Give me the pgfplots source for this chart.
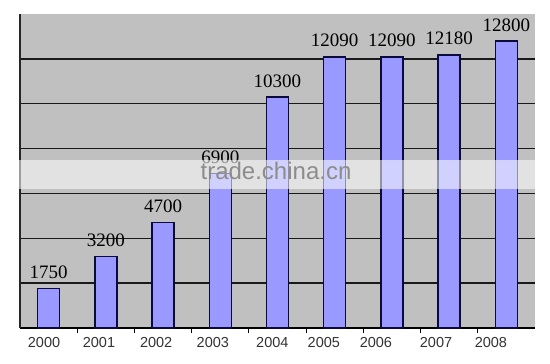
\documentclass[border=0pt]{standalone}
\usepackage{fontspec}
\setmainfont{Liberation Serif}
\newfontfamily\arialfont{Liberation Sans}
\usepackage{pgfplots}
\pgfplotsset{compat=1.18}
\definecolor{bggray}{RGB}{192,192,192}
\definecolor{barblue}{RGB}{153,153,255}
\definecolor{bardark}{RGB}{10,10,60}
\begin{document}
\begin{tikzpicture}
\path[use as bounding box] (0,0) rectangle (550pt,364pt);
\begin{axis}[
  at={(20pt,36pt)}, anchor=south west,
  scale only axis, width=515pt, height=314pt,
  xmin=-0.5, xmax=8.5, ymin=0, ymax=14000,
  scaled y ticks=false,
  /pgf/number format/1000 sep={},
  /pgf/number format/assume math mode=true,
  axis background/.style={fill=bggray},
  axis x line=bottom, axis y line=left,
  x axis line style={-, line width=2.4pt, black},
  y axis line style={-, line width=1.2pt, black!85},
  ytick={2000,4000,...,12000}, yticklabels={},
  y tick style={draw=none},
  ymajorgrids, major grid style={black!90, line width=1.3pt},
  xtick={-0.08,0.88,1.88,2.87,3.91,4.81,5.72,6.77,7.73},
  xticklabels={2000,2001,2002,2003,2004,2005,2006,2007,2008},
  major x tick style={draw=none},
  minor xtick={0.5,1.5,...,7.5},
  minor x tick style={black, line width=1pt},
  minor tick length=5pt,
  tick align=inside,
  xticklabel style={font=\arialfont\fontsize{14.5}{16}\selectfont, text=black!80, inner sep=0pt, yshift=-5pt},
  ybar, bar width=22pt,
  nodes near coords,
  nodes near coords style={font=\fontsize{19}{20}\selectfont, inner sep=0pt, anchor=south, yshift=9pt, text=black},
  clip=false,
]
\addplot[ybar, fill=barblue, draw=bardark, line width=1.4pt] coordinates {
  (0,1750) (1,3200) (2,4700) (3,6900) (4,10300) (5,12090) (6,12090) (7,12180) (8,12800)
};
\end{axis}
\fill[white, opacity=0.55] (18pt,175pt) rectangle (536pt,204pt);
\node[anchor=base, inner sep=0pt, text=black!45, font=\arialfont\fontsize{24}{26}\selectfont] at (276pt,184pt) {trade.china.cn};
\end{tikzpicture}
\end{document}
